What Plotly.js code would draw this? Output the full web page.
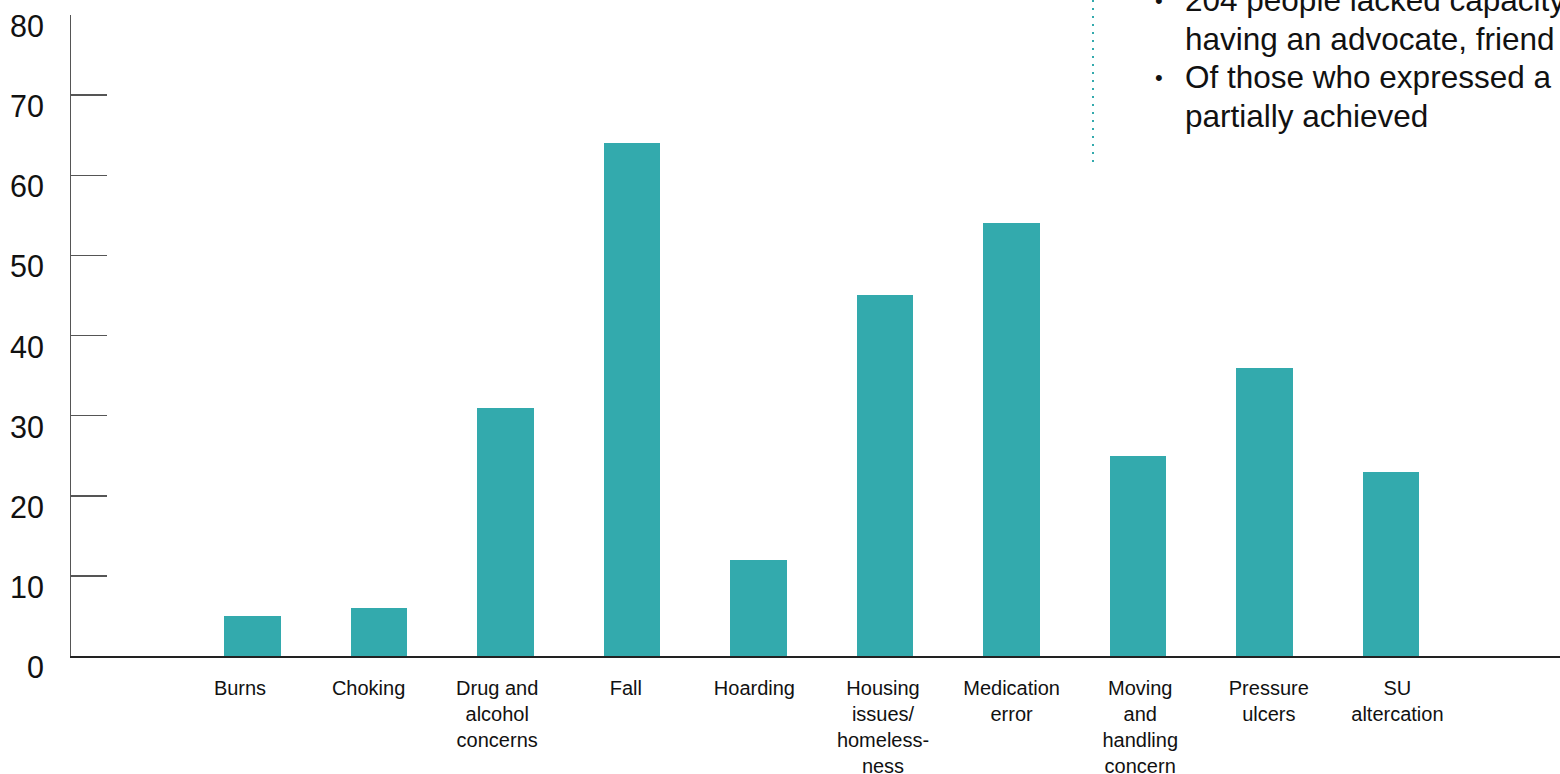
<!DOCTYPE html>
<html>
<head>
<meta charset="utf-8">
<script src="https://cdn.plot.ly/plotly-3.0.1.min.js"></script>
<style>html,body{margin:0;padding:0;background:#fff;overflow:hidden}#chart{width:1560px;height:774px}</style>
</head>
<body>
<div id="chart"></div>
<script>
// ---- data ----
const categories = ["Burns","Choking","Drug and<br>alcohol<br>concerns","Fall","Hoarding","Housing<br>issues/<br>homeless-<br>ness","Medication<br>error","Moving<br>and<br>handling<br>concern","Pressure<br>ulcers","SU<br>altercation"];
const values = [5, 6, 31, 64, 12, 45, 54, 25, 36, 23];
const yTickValues = [0, 10, 20, 30, 40, 50, 60, 70, 80];
const noteLines = ["204 people lacked capacity", "having an advocate, friend", "Of those who expressed a", "partially achieved"];
const noteBullets = [true, false, true, false];

// ---- layout helpers ----
const W = 1560, H = 774, L = 71, R = 0, T = 15, B = 118;
const plotW = W - L - R;
const px2paperX = p => (p - L) / plotW;
const idx = categories.map((c, i) => i);
const teal = '#33aaad';
const FONT = 'Liberation Sans, Arial, sans-serif';

const annotations = [];
yTickValues.forEach(v => annotations.push({
  xref: 'paper', yref: 'y', x: px2paperX(46), y: v, xanchor: 'right', yanchor: 'middle',
  yshift: -11, text: String(v), showarrow: false,
  font: {family: FONT, size: 30.5, color: '#111'}
}));
noteLines.forEach((t, i) => {
  const ys = 15 - i * 38.5;
  annotations.push({
    xref: 'paper', yref: 'paper', x: px2paperX(1183), y: 1, xanchor: 'left', yanchor: 'middle',
    yshift: ys, text: t, showarrow: false,
    font: {family: FONT, size: 31.5, color: '#111'}
  });
  if (noteBullets[i]) annotations.push({
    xref: 'paper', yref: 'paper', x: px2paperX(1159), y: 1, xanchor: 'center', yanchor: 'middle',
    yshift: ys, text: '•', showarrow: false,
    font: {family: FONT, size: 22, color: '#111'}
  });
});

const data = [
  {type: 'bar', x: idx, y: values, width: 0.45, marker: {color: teal}, hoverinfo: 'skip', xaxis: 'x', yaxis: 'y'},
  {type: 'scatter', mode: 'markers', x: idx, y: idx.map(() => null), xaxis: 'x2', yaxis: 'y', showlegend: false, hoverinfo: 'skip'}
];

const layout = {
  width: W, height: H,
  margin: {l: L, r: R, t: T, b: B, pad: 0},
  paper_bgcolor: '#fff', plot_bgcolor: '#fff',
  showlegend: false,
  bargap: 0,
  xaxis: {
    range: [(L - 252.5) / 126.5, (W - 252.5) / 126.5],
    showgrid: false, zeroline: false, showticklabels: false, ticks: '',
    showline: true, linecolor: '#222', linewidth: 2, fixedrange: true
  },
  xaxis2: {
    overlaying: 'x', anchor: 'y', side: 'bottom',
    range: [-(240 - L) / 128.6, (W - 240) / 128.6],
    tickmode: 'array', tickvals: idx, ticktext: categories,
    showgrid: false, zeroline: false, showline: false, ticks: '',
    ticklabelstandoff: 18,
    tickfont: {family: FONT, size: 20, color: '#111'}
  },
  yaxis: {
    range: [0, 80], tickmode: 'array', tickvals: yTickValues, showticklabels: false,
    ticks: 'inside', ticklen: 36, tickwidth: 1.5, tickcolor: '#555',
    showgrid: false, zeroline: false, showline: true, linecolor: '#555', linewidth: 1.5, fixedrange: true
  },
  shapes: [{
    type: 'line', xref: 'paper', yref: 'paper',
    x0: px2paperX(1093), x1: px2paperX(1093), y0: (H - B) / (H - T - B), y1: (H - B - 163) / (H - T - B),
    line: {color: teal, width: 2, dash: '2px,6px'}
  }],
  annotations: annotations
};

Plotly.newPlot('chart', data, layout, {displayModeBar: false, staticPlot: true});
</script>
</body>
</html>
